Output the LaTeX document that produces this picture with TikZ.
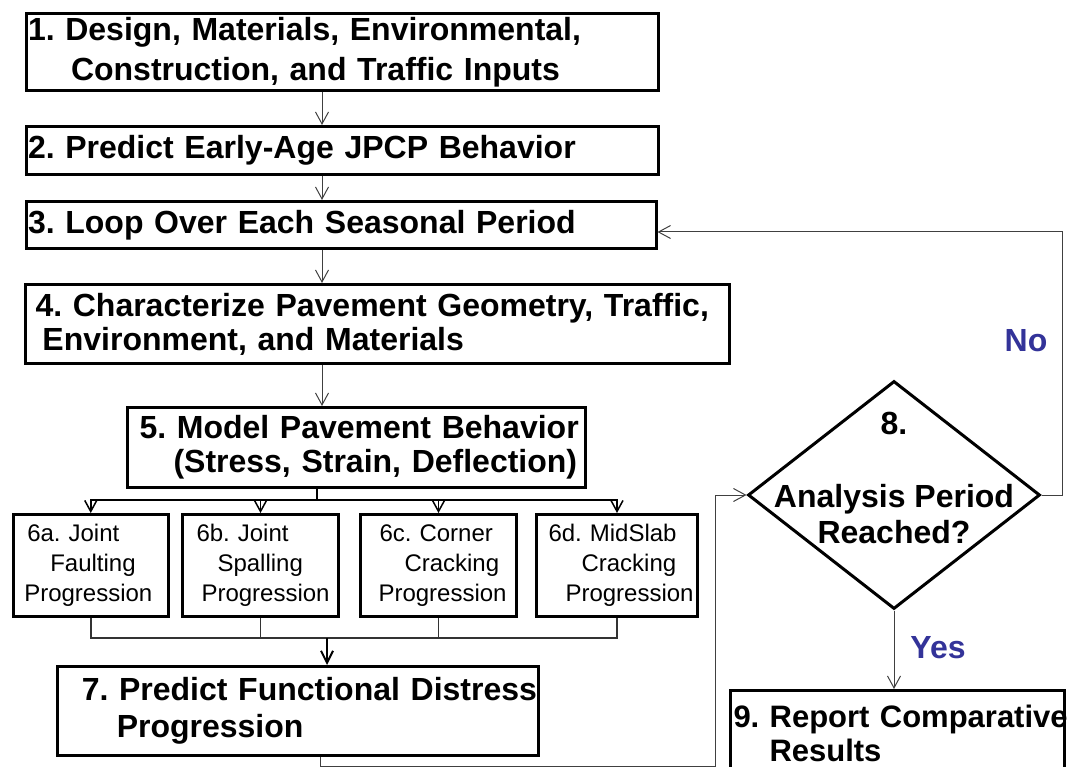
\documentclass[tikz,border=0pt]{standalone}
\usepackage{fontspec}
\setmainfont{Liberation Sans}
\usetikzlibrary{shapes.geometric}
\usetikzlibrary{arrows.meta}
\frenchspacing
\hyphenpenalty=10000
\definecolor{answerblue}{RGB}{51,51,153}
\tikzstyle{stage}=[draw, line width=3pt, inner xsep=0pt, inner ysep=0pt, align=left, font=\fontsize{32}{34}\selectfont\bfseries]
\tikzstyle{substage}=[draw, line width=3pt, inner xsep=0pt, inner ysep=0pt, align=left, minimum height=102pt, font=\fontsize{24}{30}\selectfont]
\tikzstyle{decision}=[draw, diamond, line width=3pt, inner sep=0pt, minimum width=292pt, minimum height=228pt]
\tikzstyle{flow}=[draw=black!75, line width=1pt, -{Straight Barb[length=12pt, width=13pt]}]
\tikzstyle{bus}=[draw=black, line width=2pt]
\tikzstyle{answer}=[text=answerblue, font=\fontsize{32}{34}\selectfont\bfseries]

\begin{document}
\begin{tikzpicture}[x=1pt, y=-1pt]
        \useasboundingbox (0,0) rectangle (1067,767);
        % main column
        \node[stage, text width=632pt, minimum height=77pt, font=\fontsize{32}{40}\selectfont\bfseries] (s1) at (342,52)
            {\hspace*{2pt}1. Design, Materials, Environmental,\\\hspace*{45pt}Construction, and Traffic Inputs};
        \node[stage, text width=632pt, minimum height=48pt] (s2) at (342,150.5) {\hspace*{2pt}2. Predict Early-Age JPCP Behavior};
        \node[stage, text width=630pt, minimum height=47pt] (s3) at (341,225) {\hspace*{2pt}3. Loop Over Each Seasonal Period};
        \node[stage, text width=704pt, minimum height=79pt] (s4) at (377.5,324)
            {\hspace*{10pt}4. Characterize Pavement Geometry, Traffic,\\\hspace*{17pt}Environment, and Materials};
        \node[stage, text width=458pt, minimum height=80pt] (s5) at (356.5,447.5)
            {\hspace*{12pt}5. Model Pavement Behavior\\\hspace*{46pt}(Stress, Strain, Deflection)};
        \node[substage, text width=155pt] (s6a) at (90.75,565.5)
            {\hspace*{14pt}6a. Joint\\\hspace*{37pt}Faulting\\\hspace*{11pt}Progression};
        \node[substage, text width=156pt] (s6b) at (260.5,565.5)
            {\hspace*{14pt}6b. Joint\\\hspace*{35pt}Spalling\\\hspace*{19pt}Progression};
        \node[substage, text width=156pt] (s6c) at (438.5,565.5)
            {\hspace*{19pt}6c. Corner\\\hspace*{44pt}Cracking\\\hspace*{18pt}Progression};
        \node[substage, text width=161pt] (s6d) at (617,565.5)
            {\hspace*{12pt}6d. MidSlab\\\hspace*{45pt}Cracking\\\hspace*{29pt}Progression};
        \node[stage, text width=481pt, minimum height=89pt, font=\fontsize{32}{37}\selectfont\bfseries] (s7) at (298.25,711)
            {\hspace*{24pt}7. Predict Functional Distress\\\hspace*{59pt}Progression};
        % decision and report
        \node[decision] (d8) at (894,495) {};
        \node[align=center, font=\fontsize{32}{36}\selectfont\bfseries] (d8txt) at (894,478)
            {8.\\[37pt]Analysis Period\\Reached?};
        \node[stage, text width=334pt, minimum height=85pt, font=\fontsize{31}{34}\selectfont\bfseries] (s9) at (897.5,733)
            {\hspace*{3pt}\mbox{9. Report Comparative}\\\hspace*{39pt}Results};
        % connectors
        \coordinate (spine) at (322,0);
        \draw[flow] (s1.south -| spine) -- (s2.north -| spine);
        \draw[flow] (s2.south -| spine) -- (s3.north -| spine);
        \draw[flow] (s3.south -| spine) -- (s4.north -| spine);
        \draw[flow] (s4.south -| spine) -- (s5.north -| spine);
        \coordinate (fork) at (317,500);
        \draw[bus] (s5.south -| fork) -- (fork);
        \foreach \b in {6a,6b,6c,6d}
            \draw[bus, line width=1.5pt, -{Straight Barb[length=11pt, width=12pt]}] (fork) -| (s\b.north);
        \coordinate (merge) at (327,638);
        \foreach \b in {6a,6b,6c,6d}
            \draw[draw=black!80, line width=1.5pt] (s\b.south) |- (merge);
        \draw[bus, -{Straight Barb[length=12pt, width=12pt]}] (merge) -- (s7.north -| merge);
        \coordinate (low) at (715,766);
        \draw[flow] ([xshift=22pt]s7.south) |- (low) |- (d8.west);
        \coordinate (back) at (1062,232);
        \draw[flow] (d8.east) -| (back) -- ([yshift=-7pt]s3.east);
        \node[answer] (no) at (1026,341) {No};
        \draw[flow] (d8.south) -- (d8.south |- s9.north);
        \node[answer] (yes) at (938,648) {Yes};
    \end{tikzpicture}
\end{document}
